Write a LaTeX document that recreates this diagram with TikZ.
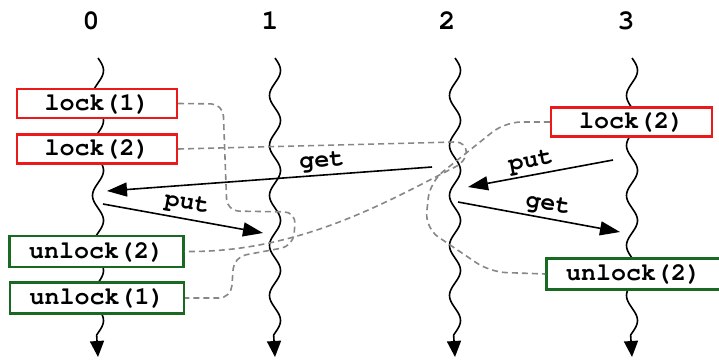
\documentclass[tikz,border=0pt]{standalone}
\usepackage[T1]{fontenc}
\renewcommand{\ttdefault}{pcr}
\usetikzlibrary{arrows.meta}
\definecolor{boxred}{RGB}{235,25,25}
\definecolor{boxgreen}{RGB}{25,105,35}
\definecolor{dashgray}{RGB}{135,135,135}
\tikzset{
  lockbox/.style={draw=boxred, line width=2.2pt, fill=white, minimum width=160pt, minimum height=29pt, inner sep=0pt, font=\fontsize{25}{30}\selectfont\ttfamily\bfseries},
  unlockbox/.style={lockbox, draw=boxgreen, minimum width=174pt, minimum height=31pt},
  msg/.style={line width=1.6pt, -{Triangle[length=20pt,width=14pt]}},
  msglabel/.style={inner sep=0pt, font=\fontsize{25}{30}\selectfont\ttfamily\bfseries},
  tlabel/.style={inner sep=0pt, font=\fontsize{28}{32}\selectfont\ttfamily\bfseries},
  waveline/.style={line width=1.6pt, -{Triangle[length=16pt,width=14pt]}},
  lockpath/.style={draw=dashgray, line width=1.6pt, dash pattern=on 6pt off 4pt},
}
\newcommand\threadwave[2]{%
  \draw[waveline] plot[domain=58:335, samples=140, variable=\t] ({#1+5.5*sin(7.2*(\t-58))}, \t) -- (#2);}
\begin{document}
\begin{tikzpicture}[x=1pt,y=-1pt]
\useasboundingbox (0,0) rectangle (719,362);
% thread labels
\node[tlabel] (n0) at (91,21) {0};
\node[tlabel] (n1) at (270,21) {1};
\node[tlabel] (n2) at (447,21) {2};
\node[tlabel] (n3) at (626,21) {3};
% thread ends
\coordinate (e0) at (98,357);
\coordinate (e1) at (275,357);
\coordinate (e2) at (455,357);
\coordinate (e3) at (632,357);
\threadwave{98}{e0}
\threadwave{275}{e1}
\threadwave{455}{e2}
\threadwave{632}{e3}
% boxes
\node[lockbox] (l01) at (97,103.5) {lock(1)};
\node[lockbox] (l02) at (97,149) {lock(2)};
\node[unlockbox] (u02) at (96.5,251.5) {unlock(2)};
\node[unlockbox] (u01) at (97,298) {unlock(1)};
\node[lockbox, minimum width=161pt] (l32) at (631.5,122) {lock(2)};
\node[unlockbox] (u32) at (633.5,274) {unlock(2)};
% lock scopes
\draw[lockpath, rounded corners=12pt] (l01.east) -- (223,104) -- (227,211) -- (296,212) -- (293,246) -- (234,257) -- (231,298) -- (u01.east);
\draw[lockpath] (l02.east) -- (455,142) .. controls (470,142) and (470,160) .. (455,167) .. controls (390,200) and (300,253) .. (u02.east);
\draw[lockpath, rounded corners=16pt] (l32.west) -- (505,122) -- (430,182) -- (425,228) -- (490,272) -- (u32.west);
% messages
\coordinate (g1s) at (432,167);
\coordinate (g1e) at (107,191);
\coordinate (p1s) at (613,160);
\coordinate (p1e) at (468,187);
\coordinate (p2s) at (103,204);
\coordinate (p2e) at (263,233);
\coordinate (g2s) at (458,202);
\coordinate (g2e) at (620,232);
\draw[msg] (g1s) -- (g1e);
\draw[msg] (p1s) -- (p1e);
\draw[msg] (p2s) -- (p2e);
\draw[msg] (g2s) -- (g2e);
\node[msglabel, rotate=4.2] (lg1) at (322,162) {get};
\node[msglabel, rotate=10.5] (lp1) at (531,162) {put};
\node[msglabel, rotate=-10] (lp2) at (187,204) {put};
\node[msglabel, rotate=-10.5] (lg2) at (548,205) {get};
\end{tikzpicture}
\end{document}
